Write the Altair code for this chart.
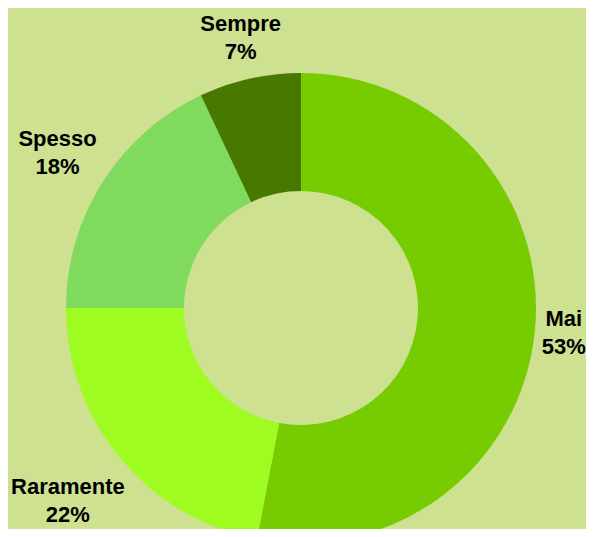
import altair as alt
import pandas as pd

categories = ["Mai", "Raramente", "Spesso", "Sempre"]
percent = [53, 22, 18, 7]
order = [0, 1, 2, 3]
colors = ["#76cc00", "#9ffc20", "#80da5e", "#477800"]

df = pd.DataFrame({"categoria": categories, "percentuale": percent, "ordine": order})

CX, CY = 293, 300
LINE_H = 28

base = alt.Chart(df)

arcs = base.mark_arc(innerRadius=117, outerRadius=235).encode(
    theta=alt.Theta("percentuale:Q", stack=True),
    order=alt.Order("ordine:Q"),
    color=alt.Color("categoria:N", scale=alt.Scale(domain=categories, range=colors), legend=None),
    x=alt.value(CX),
    y=alt.value(CY),
)

labels = base.transform_window(
    cum="sum(percentuale)", sort=[alt.SortField("ordine")], frame=[None, 0]
).transform_joinaggregate(
    total="sum(percentuale)"
).transform_calculate(
    pct="datum.percentuale + '%'",
).transform_calculate(
    label="datum.categoria + '\\n' + datum.pct",
    mid="2*PI*(datum.cum - datum.percentuale/2)/datum.total",
).transform_calculate(
    lr="243 + 6.2*max(length(datum.categoria), length(datum.pct))*abs(sin(datum.mid)) + 26*abs(cos(datum.mid))"
).mark_text(
    font="Liberation Sans", fontWeight="bold", fontSize=22, lineHeight=LINE_H,
    lineBreak="\n", align="center", baseline="middle", color="#000000", dy=-LINE_H / 2
).encode(
    theta=alt.Theta("mid:Q", scale=None, stack=False),
    radius=alt.Radius("lr:Q", scale=None),
    text="label:N",
    x=alt.value(CX),
    y=alt.value(CY),
)

chart = alt.layer(arcs, labels).properties(
    width=578, height=521, padding=0, autosize="none", background="#cde190"
).configure_view(stroke=None)

chart.save("out.html", embed_options={"renderer": "svg", "actions": False})
